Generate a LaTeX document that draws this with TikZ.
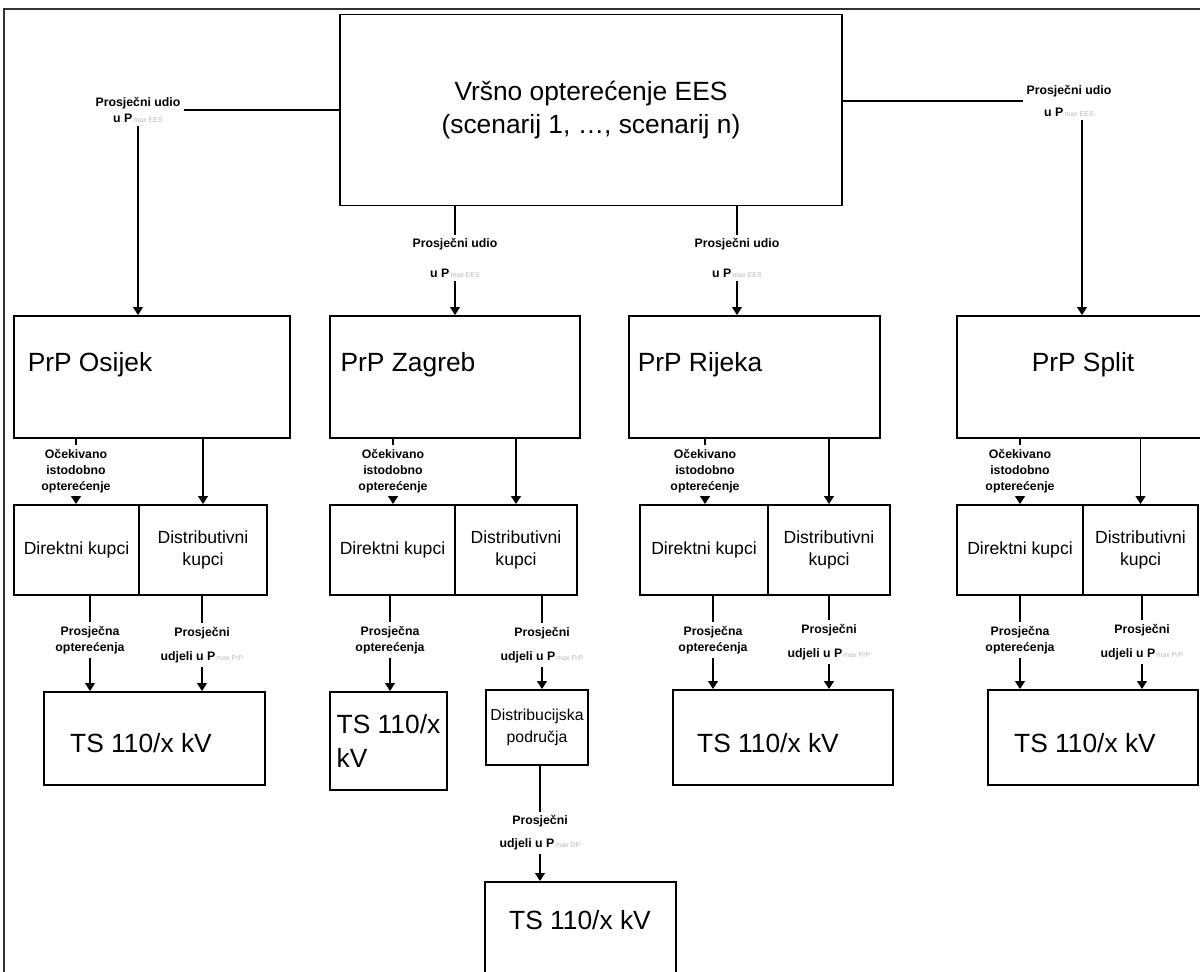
\documentclass[tikz,border=0pt]{standalone}
\usepackage{fontspec}
\setmainfont{Liberation Sans}
\usetikzlibrary{arrows.meta}
\newcommand{\pmx}[1]{P{\fontsize{4}{4}\selectfont\mdseries\color{gray!55}\,max #1}}

\begin{document}
\begin{tikzpicture}[x=0.02cm, y=-0.02cm,
  box/.style={draw, line width=1.1pt, inner sep=0pt, align=center},
  big/.style={font=\fontsize{15}{19}\selectfont},
  kup/.style={font=\fontsize{10}{13}\selectfont},
  lbl/.style={font=\fontsize{7}{9}\selectfont\bfseries, align=center, inner sep=2pt},
  con/.style={line width=1pt},
  arr/.style={line width=1pt, -{Triangle[length=4.5pt,width=5.5pt]}}]
\useasboundingbox (0,0) rectangle (1200,972);
\draw[line width=0.8pt, black!80] (4,990) -- (4,9) -- (1215,9);

% vrh
\node[box, big, minimum width=10.04cm, minimum height=3.82cm] (ees) at (591,110) {Vršno opterećenje EES\\(scenarij 1, …, scenarij n)};

% PrP
\node[box, minimum width=5.52cm, minimum height=2.44cm] (osijek) at (152,377) {};
\node[box, minimum width=5cm, minimum height=2.44cm] (zagreb) at (455,377) {};
\node[box, minimum width=5.02cm, minimum height=2.44cm] (rijeka) at (754.5,377) {};
\node[box, minimum width=5cm, minimum height=2.44cm] (split) at (1082,377) {};
\node[big] (tOs) at (90,365) {PrP Osijek};
\node[big] (tZg) at (408,365) {PrP Zagreb};
\node[big] (tRi) at (700,365) {PrP Rijeka};
\node[big] (tSp) at (1083,365) {PrP Split};

\node[lbl] (uOs) at (138,110) {Prosječni udio\\u \pmx{EES}};
\draw[con] (ees.west |- uOs.east) -- (uOs.east);
\draw[arr] (uOs.south) -- (uOs.south |- osijek.north);
\node[lbl] (uSp) at (1069,101) {Prosječni udio\\[3pt]u \pmx{EES}};
\draw[con] (ees.east |- uSp.west) -- (uSp.west);
\draw[arr] (uSp.south -| split.north) -- (split.north);
\node[lbl] (uZg) at (455,258) {Prosječni udio\\[8pt]u \pmx{EES}};
\draw[con] (ees.south -| uZg.north) -- (uZg.north);
\draw[arr] (uZg.south) -- (uZg.south |- zagreb.north);
\node[lbl] (uRi) at (737,258) {Prosječni udio\\[8pt]u \pmx{EES}};
\draw[con] (ees.south -| uRi.north) -- (uRi.north);
\draw[arr] (uRi.south) -- (uRi.south |- rijeka.north);

% kupci
\node[box, kup, minimum width=2.5cm, minimum height=1.8cm] (dirOs) at (76.5,550) {Direktni kupci};
\node[box, kup, minimum width=2.56cm, minimum height=1.8cm] (disOs) at (203,550) {Distributivni\\kupci};
\node[box, kup, minimum width=2.5cm, minimum height=1.8cm] (dirZg) at (392.5,550) {Direktni kupci};
\node[box, kup, minimum width=2.44cm, minimum height=1.8cm] (disZg) at (516,550) {Distributivni\\kupci};
\node[box, kup, minimum width=2.56cm, minimum height=1.8cm] (dirRi) at (704,550) {Direktni kupci};
\node[box, kup, minimum width=2.44cm, minimum height=1.8cm] (disRi) at (829,550) {Distributivni\\kupci};
\node[box, kup, minimum width=2.52cm, minimum height=1.8cm] (dirSp) at (1020,550) {Direktni kupci};
\node[box, kup, minimum width=2.3cm, minimum height=1.8cm] (disSp) at (1140.5,550) {Distributivni\\kupci};

\node[lbl] (oOs) at (76,471) {Očekivano\\istodobno\\opterećenje};
\draw[con] (osijek.south -| oOs.north) -- (oOs.north);
\draw[arr] (oOs.south) -- (oOs.south |- dirOs.north);
\draw[arr] (osijek.south -| disOs.north) -- (disOs.north);
\node[lbl] (oZg) at (393,471) {Očekivano\\istodobno\\opterećenje};
\draw[con] (zagreb.south -| oZg.north) -- (oZg.north);
\draw[arr] (oZg.south) -- (oZg.south |- dirZg.north);
\draw[arr] (zagreb.south -| disZg.north) -- (disZg.north);
\node[lbl] (oRi) at (705,471) {Očekivano\\istodobno\\opterećenje};
\draw[con] (rijeka.south -| oRi.north) -- (oRi.north);
\draw[arr] (oRi.south) -- (oRi.south |- dirRi.north);
\draw[arr] (rijeka.south -| disRi.north) -- (disRi.north);
\node[lbl] (oSp) at (1020,471) {Očekivano\\istodobno\\opterećenje};
\draw[con] (split.south -| oSp.north) -- (oSp.north);
\draw[arr] (oSp.south) -- (oSp.south |- dirSp.north);
\draw[arr] (split.south -| disSp.north) -- (disSp.north);

% TS
\node[box, minimum width=4.42cm, minimum height=1.86cm] (tsOs) at (154.5,738.5) {};
\node[big] (ttOs) at (141,743) {TS 110/x kV};
\node[box, big, align=left, minimum width=2.34cm, minimum height=1.96cm] (tsZg) at (388.5,741) {TS 110/x\\kV};
\node[box, font=\fontsize{9}{12.5}\selectfont, minimum width=2.04cm, minimum height=1.5cm] (dpZg) at (537,727.5) {Distribucijska\\područja};
\node[box, minimum width=3.82cm, minimum height=2.2cm] (tsDp) at (580.5,937) {};
\node[big] (ttDp) at (580,920) {TS 110/x kV};
\node[box, minimum width=4.4cm, minimum height=1.9cm] (tsRi) at (783,737.5) {};
\node[big] (ttRi) at (768,743) {TS 110/x kV};
\node[box, minimum width=4.2cm, minimum height=1.9cm] (tsSp) at (1093,737.5) {};
\node[big] (ttSp) at (1085,743) {TS 110/x kV};

\node[lbl] (pOs) at (90,640) {Prosječna\\opterećenja};
\draw[con] (dirOs.south -| pOs.north) -- (pOs.north);
\draw[arr] (pOs.south) -- (pOs.south |- tsOs.north);
\node[lbl] (qOs) at (202,645) {Prosječni\\[5pt]udjeli u \pmx{PrP}};
\draw[con] (disOs.south -| qOs.north) -- (qOs.north);
\draw[arr] (qOs.south) -- (qOs.south |- tsOs.north);

\node[lbl] (pZg) at (390,640) {Prosječna\\opterećenja};
\draw[con] (dirZg.south -| pZg.north) -- (pZg.north);
\draw[arr] (pZg.south) -- (pZg.south |- tsZg.north);
\node[lbl] (qZg) at (542,645) {Prosječni\\[5pt]udjeli u \pmx{PrP}};
\draw[con] (disZg.south -| qZg.north) -- (qZg.north);
\draw[arr] (qZg.south) -- (qZg.south |- dpZg.north);
\node[lbl] (rDp) at (540,833) {Prosječni\\[4pt]udjeli u \pmx{DP}};
\draw[con] (dpZg.south -| rDp.north) -- (rDp.north);
\draw[arr] (rDp.south) -- (rDp.south |- tsDp.north);

\node[lbl] (pRi) at (713,640) {Prosječna\\opterećenja};
\draw[con] (dirRi.south -| pRi.north) -- (pRi.north);
\draw[arr] (pRi.south) -- (pRi.south |- tsRi.north);
\node[lbl] (qRi) at (829,642) {Prosječni\\[5pt]udjeli u \pmx{PrP}};
\draw[con] (disRi.south -| qRi.north) -- (qRi.north);
\draw[arr] (qRi.south) -- (qRi.south |- tsRi.north);

\node[lbl] (pSp) at (1020,640) {Prosječna\\opterećenja};
\draw[con] (dirSp.south -| pSp.north) -- (pSp.north);
\draw[arr] (pSp.south) -- (pSp.south |- tsSp.north);
\node[lbl] (qSp) at (1142,642) {Prosječni\\[5pt]udjeli u \pmx{PrP}};
\draw[con] (disSp.south -| qSp.north) -- (qSp.north);
\draw[arr] (qSp.south) -- (qSp.south |- tsSp.north);
\end{tikzpicture}
\end{document}
